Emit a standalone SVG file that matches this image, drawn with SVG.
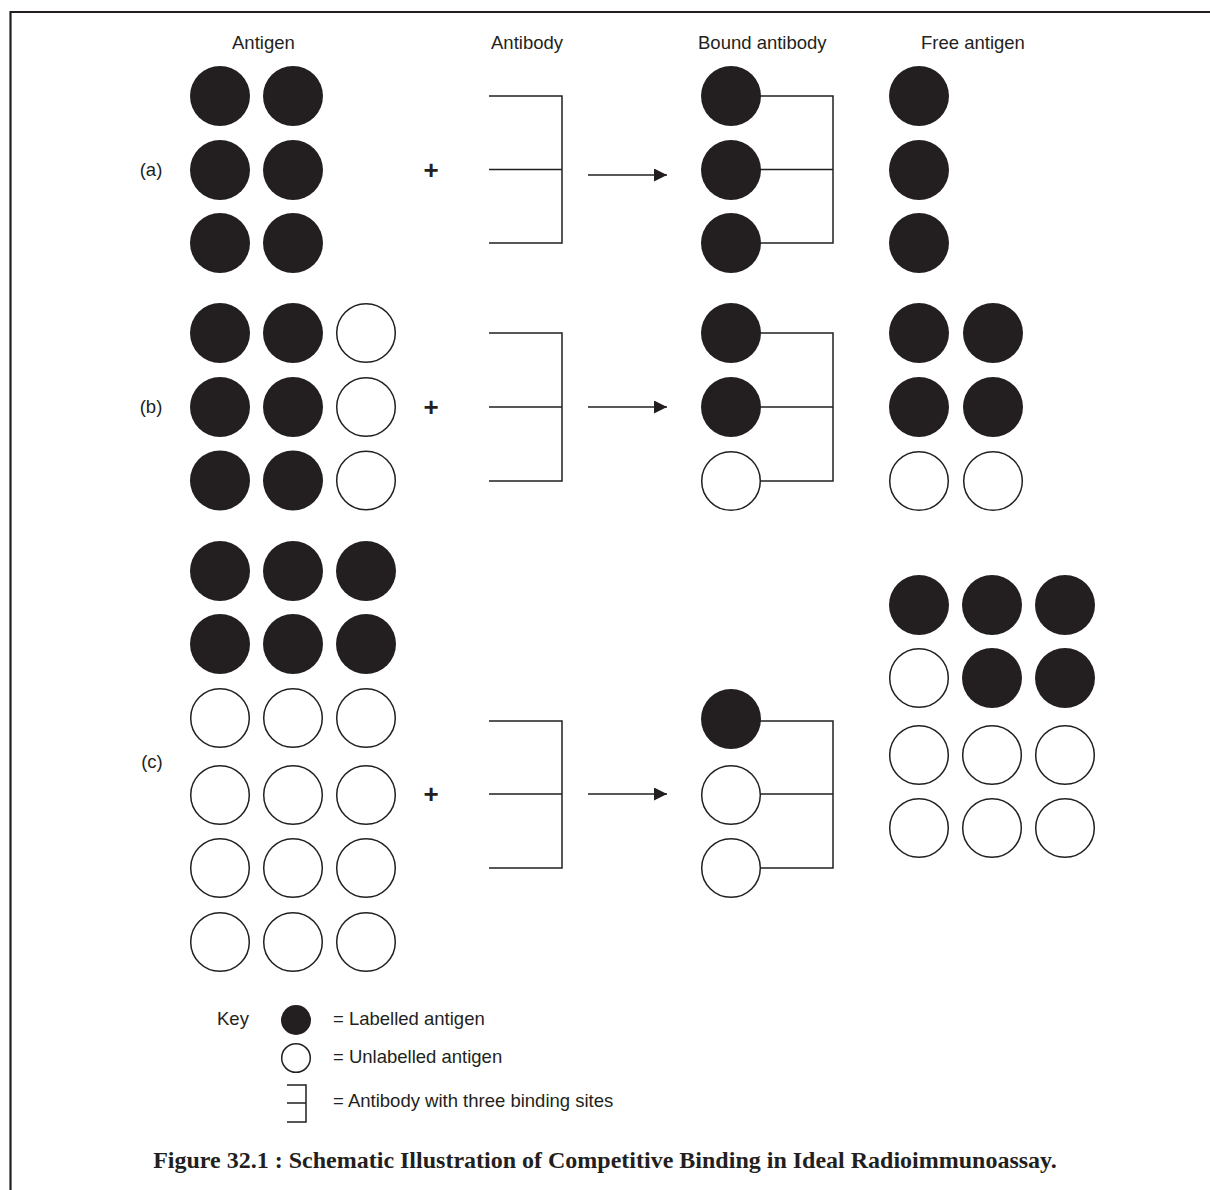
<svg xmlns="http://www.w3.org/2000/svg" width="1210" height="1190" viewBox="0 0 1210 1190">
<style>
  .lab{fill:#231f20;stroke:none}
  .unl{fill:#fff;stroke:#231f20;stroke-width:1.5}
  .ab{fill:none;stroke:#231f20;stroke-width:1.5}
  .t{font-family:"Liberation Sans",Arial,Helvetica,sans-serif;font-size:18.5px;fill:#231f20}
  .plus{font-family:"Liberation Sans",Arial,Helvetica,sans-serif;font-size:26px;font-weight:bold;fill:#231f20}
  .cap{font-family:"Liberation Serif","Times New Roman",serif;font-size:24px;font-weight:bold;fill:#231f20}
  .arr{fill:none;stroke:#231f20;stroke-width:1.5}
</style>
<defs>
  <marker id="ah" viewBox="0 0 13 13" refX="13" refY="6.5" markerWidth="13" markerHeight="13" markerUnits="userSpaceOnUse" orient="auto">
    <path d="M0,0 L13,6.5 L0,13 Z" fill="#231f20"/>
  </marker>
</defs>
<rect x="0" y="0" width="1210" height="1190" fill="#fff"/>
<path d="M10.5,1190 V12 H1210" fill="none" stroke="#231f20" stroke-width="2.2"/>

<g id="headers">
  <text class="t" x="232" y="49">Antigen</text>
  <text class="t" x="491" y="49">Antibody</text>
  <text class="t" x="698" y="49">Bound antibody</text>
  <text class="t" x="921" y="49">Free antigen</text>
</g>

<!-- Row (a) -->
<g id="row-a-label"><text class="t" x="151" y="176" text-anchor="middle">(a)</text></g>
<g id="row-a-antigen">
  <circle class="lab" cx="220" cy="96" r="30"/><circle class="lab" cx="293" cy="96" r="30"/>
  <circle class="lab" cx="220" cy="170" r="30"/><circle class="lab" cx="293" cy="170" r="30"/>
  <circle class="lab" cx="220" cy="243" r="30"/><circle class="lab" cx="293" cy="243" r="30"/>
</g>
<g id="row-a-plus"><text class="plus" x="431" y="179" text-anchor="middle">+</text></g>
<g id="row-a-antibody"><path class="ab" d="M489,96 H562 V243 H489 M489,169.5 H562"/></g>
<g id="row-a-bound">
  <path class="ab" d="M760,96 H833 V243 H760 M760,169.5 H833"/>
  <circle class="lab" cx="731" cy="96" r="30"/>
  <circle class="lab" cx="731" cy="170" r="30"/>
  <circle class="lab" cx="731" cy="243" r="30"/>
</g>
<g id="row-a-free">
  <circle class="lab" cx="919" cy="96" r="30"/>
  <circle class="lab" cx="919" cy="170" r="30"/>
  <circle class="lab" cx="919" cy="243" r="30"/>
</g>

<!-- Row (b) -->
<g id="row-b-label"><text class="t" x="151" y="413" text-anchor="middle">(b)</text></g>
<g id="row-b-antigen">
  <circle class="lab" cx="220" cy="333" r="30"/><circle class="lab" cx="293" cy="333" r="30"/><circle class="unl" cx="366" cy="333" r="29.3"/>
  <circle class="lab" cx="220" cy="407" r="30"/><circle class="lab" cx="293" cy="407" r="30"/><circle class="unl" cx="366" cy="407" r="29.3"/>
  <circle class="lab" cx="220" cy="480.5" r="30"/><circle class="lab" cx="293" cy="480.5" r="30"/><circle class="unl" cx="366" cy="480.5" r="29.3"/>
</g>
<g id="row-b-plus"><text class="plus" x="431" y="416" text-anchor="middle">+</text></g>
<g id="row-b-antibody"><path class="ab" d="M489,333 H562 V481 H489 M489,407 H562"/></g>
<g id="row-b-bound">
  <path class="ab" d="M760,333 H833 V481 H760 M760,407 H833"/>
  <circle class="lab" cx="731" cy="333" r="30"/>
  <circle class="lab" cx="731" cy="407" r="30"/>
  <circle class="unl" cx="731" cy="481" r="29.3"/>
</g>
<g id="row-b-free">
  <circle class="lab" cx="919" cy="333" r="30"/><circle class="lab" cx="993" cy="333" r="30"/>
  <circle class="lab" cx="919" cy="407" r="30"/><circle class="lab" cx="993" cy="407" r="30"/>
  <circle class="unl" cx="919" cy="481" r="29.3"/><circle class="unl" cx="993" cy="481" r="29.3"/>
</g>

<!-- Row (c) -->
<g id="row-c-label"><text class="t" x="152" y="768" text-anchor="middle">(c)</text></g>
<g id="row-c-antigen">
  <circle class="lab" cx="220" cy="571" r="30"/><circle class="lab" cx="293" cy="571" r="30"/><circle class="lab" cx="366" cy="571" r="30"/>
  <circle class="lab" cx="220" cy="644" r="30"/><circle class="lab" cx="293" cy="644" r="30"/><circle class="lab" cx="366" cy="644" r="30"/>
  <circle class="unl" cx="220" cy="718" r="29.3"/><circle class="unl" cx="293" cy="718" r="29.3"/><circle class="unl" cx="366" cy="718" r="29.3"/>
  <circle class="unl" cx="220" cy="795" r="29.3"/><circle class="unl" cx="293" cy="795" r="29.3"/><circle class="unl" cx="366" cy="795" r="29.3"/>
  <circle class="unl" cx="220" cy="868" r="29.3"/><circle class="unl" cx="293" cy="868" r="29.3"/><circle class="unl" cx="366" cy="868" r="29.3"/>
  <circle class="unl" cx="220" cy="942" r="29.3"/><circle class="unl" cx="293" cy="942" r="29.3"/><circle class="unl" cx="366" cy="942" r="29.3"/>
</g>
<g id="row-c-plus"><text class="plus" x="431" y="803" text-anchor="middle">+</text></g>
<g id="row-c-antibody"><path class="ab" d="M489,721 H562 V868 H489 M489,794 H562"/></g>
<g id="row-c-bound">
  <path class="ab" d="M760,721 H833 V868 H760 M760,794 H833"/>
  <circle class="lab" cx="731" cy="719" r="30"/>
  <circle class="unl" cx="731" cy="795" r="29.3"/>
  <circle class="unl" cx="731" cy="868" r="29.3"/>
</g>
<g id="row-c-free">
  <circle class="lab" cx="919" cy="605" r="30"/><circle class="lab" cx="992" cy="605" r="30"/><circle class="lab" cx="1065" cy="605" r="30"/>
  <circle class="unl" cx="919" cy="678" r="29.3"/><circle class="lab" cx="992" cy="678" r="30"/><circle class="lab" cx="1065" cy="678" r="30"/>
  <circle class="unl" cx="919" cy="755" r="29.3"/><circle class="unl" cx="992" cy="755" r="29.3"/><circle class="unl" cx="1065" cy="755" r="29.3"/>
  <circle class="unl" cx="919" cy="828" r="29.3"/><circle class="unl" cx="992" cy="828" r="29.3"/><circle class="unl" cx="1065" cy="828" r="29.3"/>
</g>

<g id="connectors">
  <line class="arr" x1="588" y1="175" x2="667" y2="175" marker-end="url(#ah)"/>
  <line class="arr" x1="588" y1="407" x2="667" y2="407" marker-end="url(#ah)"/>
  <line class="arr" x1="588" y1="794" x2="667" y2="794" marker-end="url(#ah)"/>
</g>

<g id="key">
  <text class="t" x="217" y="1025">Key</text>
  <circle class="lab" cx="296" cy="1020" r="15"/>
  <text class="t" x="333" y="1025">= Labelled antigen</text>
  <circle class="unl" cx="296" cy="1058" r="14.3"/>
  <text class="t" x="333" y="1063">= Unlabelled antigen</text>
  <path class="ab" d="M287,1085 H306 V1122 H287 M287,1103 H306"/>
  <text class="t" x="333" y="1107">= Antibody with three binding sites</text>
</g>

<g id="caption">
  <text class="cap" x="605" y="1168" text-anchor="middle">Figure 32.1 : Schematic Illustration of Competitive Binding in Ideal Radioimmunoassay.</text>
</g>
</svg>
